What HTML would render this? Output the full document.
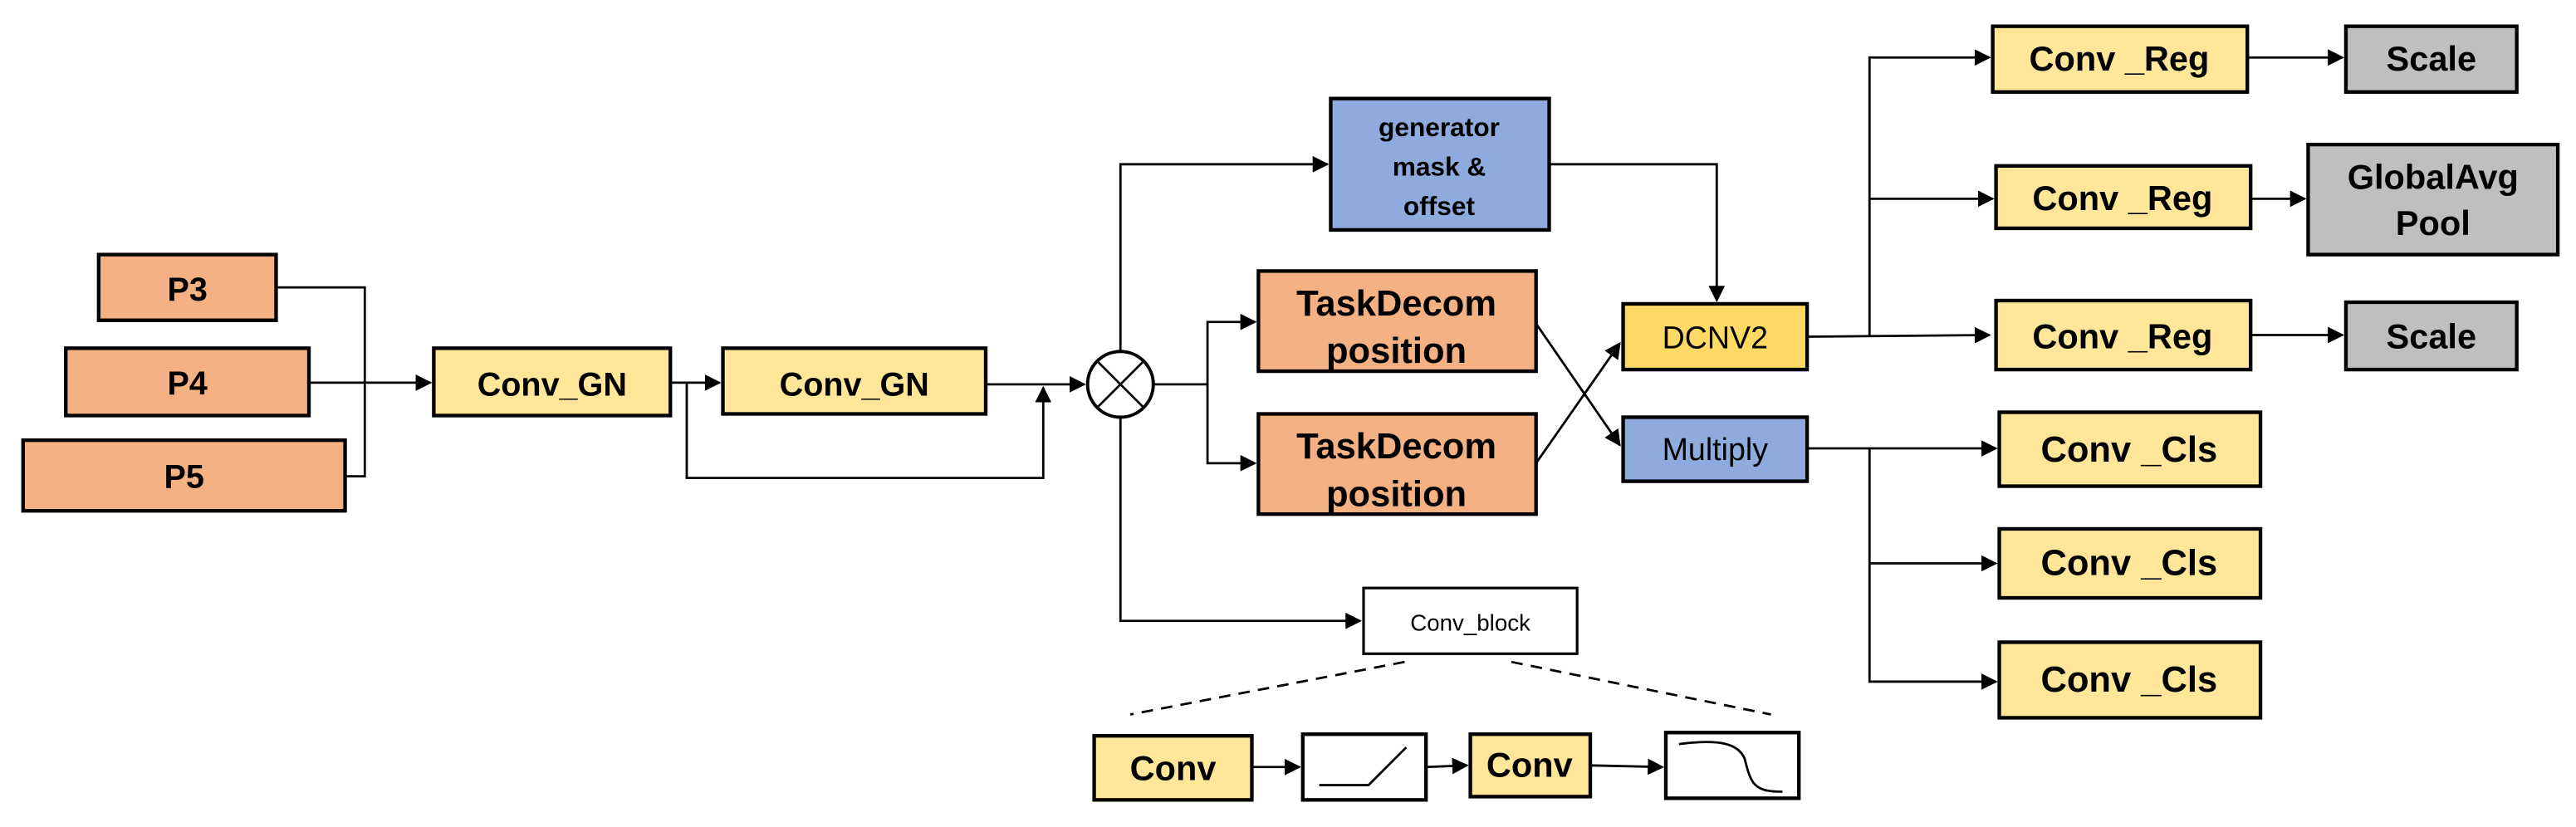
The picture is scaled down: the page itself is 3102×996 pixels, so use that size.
<!DOCTYPE html>
<html><head><meta charset="utf-8"><style>html,body{margin:0;padding:0;background:#fff}svg{display:block}</style></head>
<body>
<svg width="3102" height="996" viewBox="0 0 1568 503.5" xmlns="http://www.w3.org/2000/svg" font-family="Liberation Sans, sans-serif" font-weight="bold">
<defs><marker id="a" markerWidth="10" markerHeight="10" refX="9" refY="5" orient="auto" markerUnits="userSpaceOnUse"><path d="M0,0 L10,5 L0,10 z" fill="#000"/></marker></defs>
<g stroke="#000" stroke-width="2.2">
<rect x="60" y="155" width="108" height="40" fill="#F4B183"/>
<rect x="40" y="212" width="148" height="41" fill="#F4B183"/>
<rect x="14" y="268" width="196" height="43" fill="#F4B183"/>
<rect x="264" y="212" width="144" height="41" fill="#FFE699"/>
<rect x="440" y="212" width="160" height="40" fill="#FFE699"/>
<rect x="810" y="60" width="133" height="80" fill="#8FAADC"/>
<rect x="766" y="165" width="169" height="61" fill="#F4B183"/>
<rect x="766" y="252" width="169" height="61" fill="#F4B183"/>
<rect x="988" y="185" width="112" height="40" fill="#FFD966"/>
<rect x="988" y="254" width="112" height="39" fill="#8FAADC"/>
<rect x="830" y="358" width="130" height="40" fill="#fff" stroke-width="1.6"/>
<rect x="666" y="448" width="96" height="39" fill="#FFE699"/>
<rect x="793" y="447" width="75" height="40" fill="#fff"/>
<rect x="895" y="447" width="73" height="38" fill="#FFE699"/>
<rect x="1014" y="446" width="81" height="40" fill="#fff"/>
<rect x="1213" y="16" width="155" height="40" fill="#FFE699"/>
<rect x="1428" y="16" width="104" height="40" fill="#BFBFBF"/>
<rect x="1215" y="101" width="155" height="38" fill="#FFE699"/>
<rect x="1405" y="88" width="152" height="67" fill="#BFBFBF"/>
<rect x="1215" y="183" width="155" height="42" fill="#FFE699"/>
<rect x="1428" y="184" width="104" height="41" fill="#BFBFBF"/>
<rect x="1217" y="251" width="159" height="45" fill="#FFE699"/>
<rect x="1217" y="322" width="159" height="42" fill="#FFE699"/>
<rect x="1217" y="391" width="159" height="46" fill="#FFE699"/>
</g>
<g stroke="#000" stroke-width="1.4" fill="none">
<circle cx="682" cy="234" r="20" fill="#fff" stroke-width="2"/>
<path d="M668,220 L696,248 M696,220 L668,248"/>
<path d="M168,175 H222 V290 H210"/>
<path d="M188,233 H262" marker-end="url(#a)"/>
<path d="M408,233 H438" marker-end="url(#a)"/>
<path d="M418,233 V291 H635 V236" marker-end="url(#a)"/>
<path d="M600,234 H660" marker-end="url(#a)"/>
<path d="M682,214 V100 H808" marker-end="url(#a)"/>
<path d="M702,234 H735 V196 H764" marker-end="url(#a)"/>
<path d="M735,234 V282 H764" marker-end="url(#a)"/>
<path d="M682,254 V378 H828" marker-end="url(#a)"/>
<path d="M943,100 H1045 V183" marker-end="url(#a)"/>
<path d="M935,197 L986,271" marker-end="url(#a)"/>
<path d="M935,282 L986,209" marker-end="url(#a)"/>
<path d="M1100,205 L1211,204" marker-end="url(#a)"/>
<path d="M1138,205 V35 H1211" marker-end="url(#a)"/>
<path d="M1138,121 H1213" marker-end="url(#a)"/>
<path d="M1100,273 H1215" marker-end="url(#a)"/>
<path d="M1138,273 V415 H1215" marker-end="url(#a)"/>
<path d="M1138,343 H1215" marker-end="url(#a)"/>
<path d="M1368,35 H1426" marker-end="url(#a)"/>
<path d="M1370,121 H1403" marker-end="url(#a)"/>
<path d="M1370,204 H1426" marker-end="url(#a)"/>
<path d="M762,467 H791" marker-end="url(#a)"/>
<path d="M868,467 L893,466" marker-end="url(#a)"/>
<path d="M968,466 L1012,467" marker-end="url(#a)"/>
<path d="M855,403 L688,435 M920,403 L1078,435" stroke-dasharray="7,5"/>
<path d="M803,478 H833 L856,455"/>
<path d="M1022,453 C1045,450 1058,452 1062,462 C1066,478 1068,482 1085,482"/>
</g>
<g text-anchor="middle" fill="#000">
<text x="114" y="183" font-size="20">P3</text>
<text x="114" y="240" font-size="20">P4</text>
<text x="112" y="297" font-size="20">P5</text>
<text x="336" y="241" font-size="20">Conv_GN</text>
<text x="520" y="241" font-size="20">Conv_GN</text>
<text x="876" y="83" font-size="16">generator</text>
<text x="876" y="107" font-size="16">mask &amp;</text>
<text x="876" y="131" font-size="16">offset</text>
<text x="850" y="192" font-size="22">TaskDecom</text>
<text x="850" y="221" font-size="22">position</text>
<text x="850" y="279" font-size="22">TaskDecom</text>
<text x="850" y="308" font-size="22">position</text>
<text x="1044" y="212" font-size="19" font-weight="normal">DCNV2</text>
<text x="1044" y="280" font-size="19" font-weight="normal">Multiply</text>
<text x="895" y="384" font-size="14" font-weight="normal">Conv_block</text>
<text x="714" y="475" font-size="21">Conv</text>
<text x="931" y="473" font-size="21">Conv</text>
<text x="1290" y="43" font-size="21">Conv _Reg</text>
<text x="1480" y="43" font-size="21">Scale</text>
<text x="1292" y="128" font-size="21">Conv _Reg</text>
<text x="1481" y="115" font-size="21">GlobalAvg</text>
<text x="1481" y="143" font-size="21">Pool</text>
<text x="1292" y="212" font-size="21">Conv _Reg</text>
<text x="1480" y="212" font-size="21">Scale</text>
<text x="1296" y="281" font-size="22">Conv _Cls</text>
<text x="1296" y="350" font-size="22">Conv _Cls</text>
<text x="1296" y="421" font-size="22">Conv _Cls</text>
</g>
</svg>
</body></html>
